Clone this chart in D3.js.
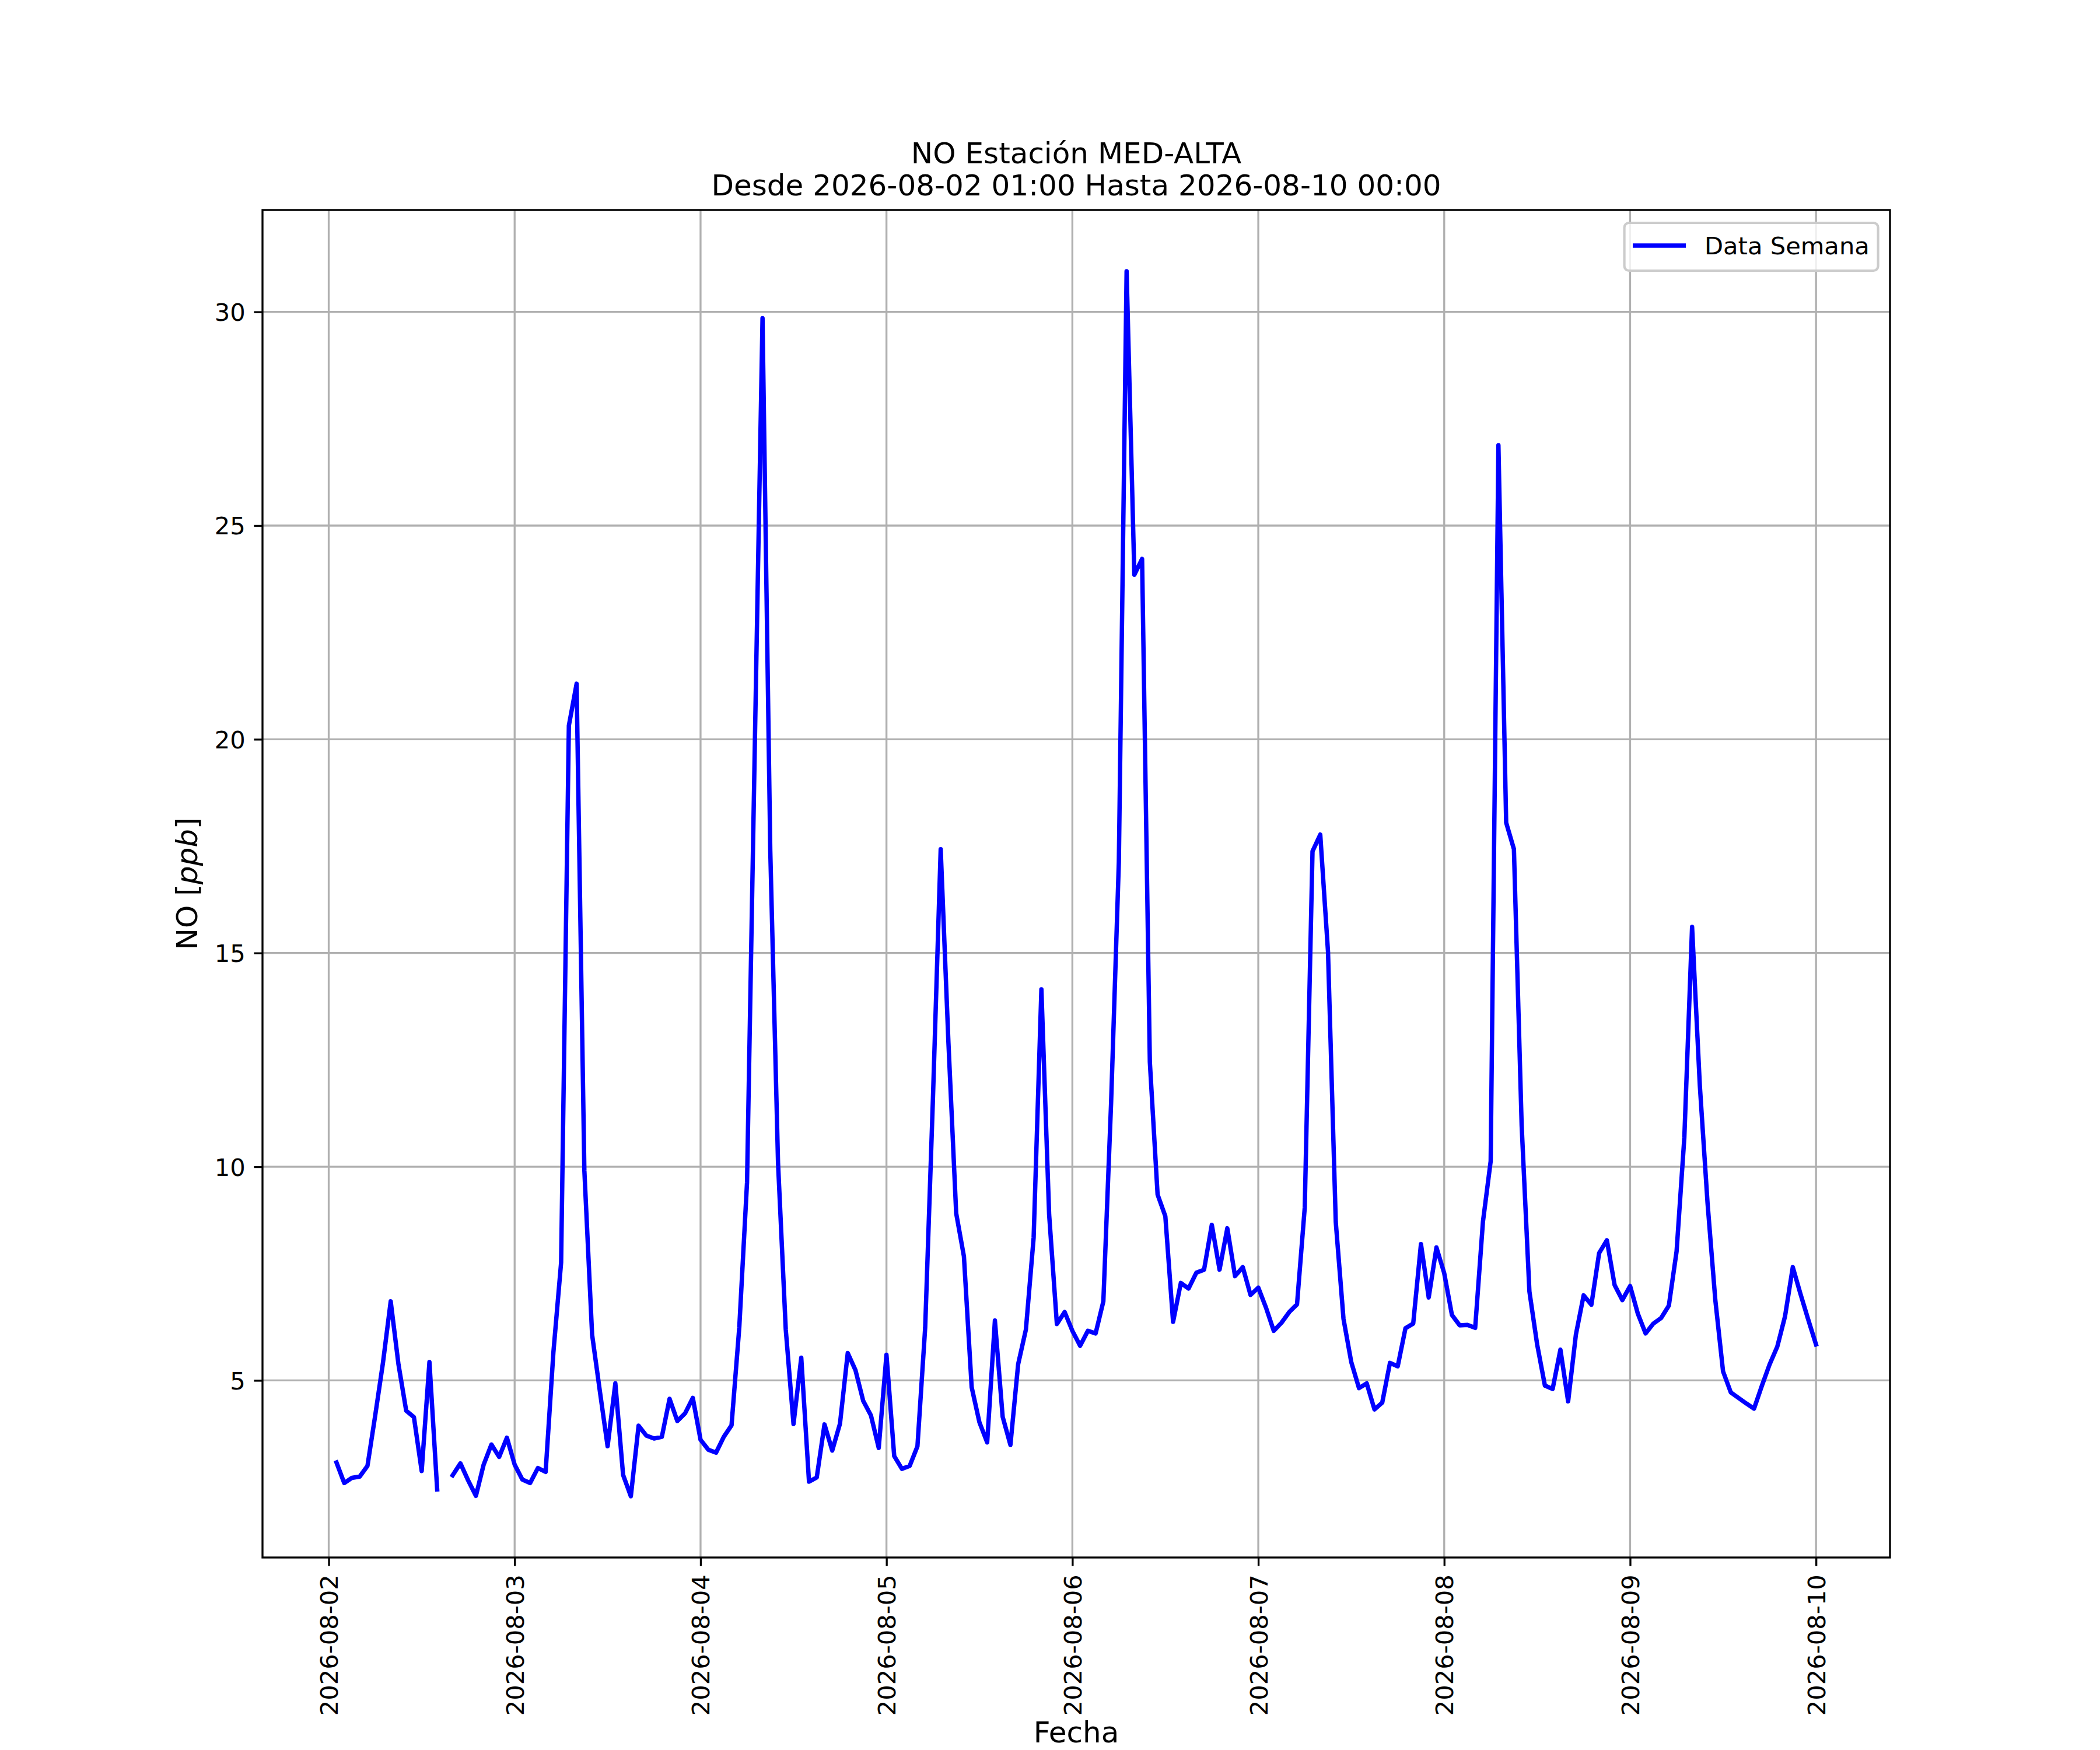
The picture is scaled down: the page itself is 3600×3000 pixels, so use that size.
<!DOCTYPE html>
<html>
<head>
<meta charset="utf-8">
<script src="https://cdn.jsdelivr.net/npm/d3@7"></script>
<style>
  html, body { margin: 0; padding: 0; background: #ffffff; }
  svg { display: block; }
  text { font-family: "DejaVu Sans", sans-serif; fill: #000; }
</style>
</head>
<body>
<script>
// ---------------- DATA ----------------
const titleLines = ["NO Estación MED-ALTA", "Desde 2026-08-02 01:00 Hasta 2026-08-10 00:00"];
const seriesName = "Data Semana";
const xLabel = "Fecha";
const startTime = "2026-08-02T01:00:00Z";   // hourly series start
const xTickLabels = ["2026-08-02","2026-08-03","2026-08-04","2026-08-05","2026-08-06",
                     "2026-08-07","2026-08-08","2026-08-09","2026-08-10"];
const yTickValues = [5, 10, 15, 20, 25, 30];

// Hourly NO values (ppb), from 2026-08-02 01:00 to 2026-08-10 00:00 (null = missing)
const day0802 = [3.08,2.60,2.72,2.75,3.00,4.18,5.41,6.85,5.38,4.29,4.14,2.88,5.43,2.45,null,2.78,3.06,2.66,2.30,3.03,3.50,3.21,3.66];
const day0803 = [3.03,2.68,2.60,2.95,2.86,5.65,7.76,20.32,21.30,9.91,6.07,4.75,3.46,4.93,2.79,2.29,3.94,3.71,3.64,3.68,4.57,4.05,4.23,4.59];
const day0804 = [3.61,3.38,3.31,3.68,3.95,6.24,9.63,19.8,29.85,17.4,10.1,6.19,3.98,5.53,2.63,2.73,3.97,3.36,3.99,5.64,5.24,4.52,4.18,3.42];
const day0805 = [5.60,3.23,2.93,3.00,3.46,6.24,11.6,17.43,12.9,8.91,7.90,4.84,4.02,3.55,6.40,4.15,3.49,5.38,6.19,8.34,14.15,8.88,6.32,6.60];
const day0806 = [6.16,5.81,6.16,6.10,6.85,11.5,17.13,30.95,23.85,24.22,12.45,9.35,8.84,6.37,7.28,7.15,7.52,7.59,8.64,7.59,8.56,7.44,7.65,7.00];
const day0807 = [7.17,6.70,6.16,6.35,6.60,6.78,9.05,17.38,17.77,15.03,8.71,6.44,5.43,4.82,4.93,4.32,4.48,5.41,5.33,6.22,6.33,8.19,6.94,8.11];
const day0808 = [7.51,6.53,6.29,6.30,6.23,8.71,10.13,26.88,18.05,17.43,10.96,7.08,5.84,4.88,4.80,5.72,4.51,6.07,6.99,6.77,7.98,8.28,7.23,6.88];
const day0809 = [7.21,6.56,6.10,6.33,6.46,6.75,8.02,10.68,15.61,11.9,9.14,6.88,5.21,4.72,4.59,4.46,4.34,4.87,5.37,5.79,6.50,7.65,7.02,6.42];
const day0810 = [5.84];

const values = [].concat(day0802, day0803, day0804, day0805, day0806, day0807, day0808, day0809, day0810);

// ---------------- LAYOUT ----------------
const W = 3600, H = 3000;
const L = 450, R = 3240, T = 360, B = 2670;
const PT = 300 / 72;                 // px per point
const tickFs = 10 * PT, labelFs = 12 * PT;
const tickLen = 3.5 * PT, tickPad = 3.5 * PT;
const spineW = 0.8 * PT, gridW = 0.8 * PT;
const lineW = 1.8 * PT;
const blue = "#0000ff";

const t0 = new Date(startTime).getTime();
const data = values.map((v, i) => ({ t: new Date(t0 + i * 3600e3), v }));

const tMin = data[0].t.getTime(), tMax = data[data.length - 1].t.getTime();
const tPad = (tMax - tMin) * 0.05;
const x = d3.scaleUtc().domain([new Date(tMin - tPad), new Date(tMax + tPad)]).range([L, R]);

const valid = values.filter(v => v != null);
const vMin = d3.min(valid), vMax = d3.max(valid);
const vPad = (vMax - vMin) * 0.05;
const y = d3.scaleLinear().domain([vMin - vPad, vMax + vPad]).range([B, T]);

const svg = d3.select("body").append("svg").attr("width", W).attr("height", H)
  .attr("viewBox", `0 0 ${W} ${H}`);
svg.append("rect").attr("width", W).attr("height", H).attr("fill", "#fff");

const xTicks = xTickLabels.map(s => new Date(s + "T00:00:00Z"));

// grid
const grid = svg.append("g");
grid.selectAll(".gx").data(xTicks).join("line")
  .attr("x1", d => x(d)).attr("x2", d => x(d)).attr("y1", T).attr("y2", B)
  .attr("stroke", "#b0b0b0").attr("stroke-width", gridW);
grid.selectAll(".gy").data(yTickValues).join("line")
  .attr("x1", L).attr("x2", R).attr("y1", d => y(d)).attr("y2", d => y(d))
  .attr("stroke", "#b0b0b0").attr("stroke-width", gridW);

// data line
const line = d3.line().defined(d => d.v != null).x(d => x(d.t)).y(d => y(d.v));
svg.append("path").datum(data).attr("d", line)
  .attr("fill", "none").attr("stroke", blue).attr("stroke-width", lineW)
  .attr("stroke-linejoin", "round").attr("stroke-linecap", "square");

// spines
svg.append("rect").attr("x", L).attr("y", T).attr("width", R - L).attr("height", B - T)
  .attr("fill", "none").attr("stroke", "#000").attr("stroke-width", spineW);

// x axis
const xAxis = svg.append("g").attr("transform", `translate(0,${B})`)
  .call(d3.axisBottom(x).tickValues(xTicks).tickSize(tickLen).tickPadding(tickPad)
        .tickFormat((d, i) => xTickLabels[i]));
xAxis.select(".domain").remove();
xAxis.selectAll(".tick line").attr("stroke", "#000").attr("stroke-width", spineW);
xAxis.selectAll(".tick text")
  .attr("font-family", "DejaVu Sans").attr("font-size", tickFs)
  .attr("transform", "rotate(-90)")
  .attr("x", -(tickLen + tickPad)).attr("y", 0).attr("dy", "0.36em")
  .attr("text-anchor", "end");

// y axis
const yAxis = svg.append("g").attr("transform", `translate(${L},0)`)
  .call(d3.axisLeft(y).tickValues(yTickValues).tickSize(tickLen).tickPadding(tickPad)
        .tickFormat(d3.format("d")));
yAxis.select(".domain").remove();
yAxis.selectAll(".tick line").attr("stroke", "#000").attr("stroke-width", spineW);
yAxis.selectAll(".tick text").attr("font-family", "DejaVu Sans").attr("font-size", tickFs)
  .attr("dy", "0.36em");

// axis labels
svg.append("text").attr("x", (L + R) / 2).attr("y", 2987)
  .attr("text-anchor", "middle").attr("font-size", labelFs).text(xLabel);

const yl = svg.append("text").attr("transform", `translate(338,${(T + B) / 2}) rotate(-90)`)
  .attr("text-anchor", "middle").attr("font-size", labelFs);
yl.append("tspan").text("NO [");
yl.append("tspan").attr("font-style", "italic").text("ppb");
yl.append("tspan").text("]");

// title
svg.selectAll(".title").data(titleLines).join("text")
  .attr("x", (L + R) / 2).attr("y", (d, i) => 280 + i * 55)
  .attr("text-anchor", "middle").attr("font-size", labelFs).text(d => d);

// legend
const lg = svg.append("g");
lg.append("rect").attr("x", 2784.6).attr("y", 382).attr("width", 435).attr("height", 82)
  .attr("rx", 8).attr("fill", "rgba(255,255,255,0.8)")
  .attr("stroke", "#cccccc").attr("stroke-width", 1.0 * PT);
lg.append("line").attr("x1", 2799).attr("x2", 2890).attr("y1", 421).attr("y2", 421)
  .attr("stroke", blue).attr("stroke-width", lineW).attr("stroke-linecap", "butt");
lg.append("text").attr("x", 2922).attr("y", 436).attr("font-size", tickFs).text(seriesName);
</script>
</body>
</html>
